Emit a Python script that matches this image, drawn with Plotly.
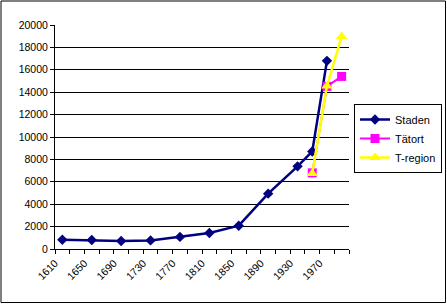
import plotly.graph_objects as go

# Data
staden_years = [1610, 1650, 1690, 1730, 1770, 1810, 1850, 1890, 1930, 1950, 1970]
staden_vals = [830, 800, 720, 770, 1080, 1430, 2080, 4940, 7380, 8710, 16800]
tatort_years = [1950, 1970, 1990]
tatort_vals = [6800, 14520, 15410]
tregion_years = [1950, 1970, 1990]
tregion_vals = [6750, 14550, 18980]

label_years = [1610, 1650, 1690, 1730, 1770, 1810, 1850, 1890, 1930, 1970]
category_bounds = list(range(1600, 2001, 20))
y_ticks = list(range(0, 20001, 2000))

FONT = "Liberation Sans, Arial, sans-serif"

fig = go.Figure()
fig.add_trace(go.Scatter(
    x=staden_years, y=staden_vals, name="Staden", mode="lines+markers",
    line=dict(color="#000080", width=2.5),
    marker=dict(symbol="diamond", size=8, color="#000080"),
))
fig.add_trace(go.Scatter(
    x=tatort_years, y=tatort_vals, name="Tätort", mode="lines+markers",
    line=dict(color="#FF00FF", width=2),
    marker=dict(symbol="square", size=9, color="#FF00FF"),
))
fig.add_trace(go.Scatter(
    x=tregion_years, y=tregion_vals, name="T-region", mode="lines+markers",
    line=dict(color="#FFFF00", width=2.5),
    marker=dict(symbol="triangle-up", size=10, color="#FFFF00"),
))

L, R, T, B = 55, 98, 25, 55
W, H = 447, 304
pw, ph = W - L - R, H - T - B

fig.update_layout(
    width=W, height=H,
    margin=dict(l=L, r=R, t=T, b=B, pad=0, autoexpand=False),
    paper_bgcolor="white", plot_bgcolor="white",
    font=dict(family=FONT, size=11, color="black"),
    showlegend=True,
    legend=dict(
        x=(354 - L) / pw, y=(H - B - 104) / ph, xanchor="left", yanchor="top",
        bordercolor="black", borderwidth=1, bgcolor="white",
        font=dict(family=FONT, size=11, color="black"),
        itemwidth=30, tracegroupgap=0,
    ),
    xaxis=dict(
        range=[1600, 2000],
        showgrid=False, zeroline=False,
        showline=True, linecolor="black", linewidth=1,
        tickmode="array",
        tickvals=[y - 10 for y in label_years],
        ticktext=[str(y) for y in label_years],
        ticks="", tickangle=-45, ticklabelstandoff=3,
        tickfont=dict(family=FONT, size=10.5, color="black"),
        minor=dict(tickmode="array", tickvals=category_bounds, ticks="outside",
                   ticklen=4, tickcolor="black", tickwidth=1, showgrid=False),
    ),
    yaxis=dict(
        range=[0, 20000],
        tickmode="array", tickvals=y_ticks, ticktext=[str(v) for v in y_ticks],
        showgrid=True, gridcolor="black", gridwidth=1,
        zeroline=False,
        showline=True, linecolor="black", linewidth=1,
        ticks="outside", ticklen=4, tickcolor="black",
        tickfont=dict(family=FONT, size=10.5, color="black"),
    ),
    shapes=[dict(
        type="rect", xref="paper", yref="paper",
        x0=(1 - L) / pw, x1=(445.5 - L) / pw,
        y0=(H - B - 302.5) / ph, y1=(H - B - 1) / ph,
        line=dict(color="black", width=1), fillcolor="rgba(0,0,0,0)", layer="above",
    )],
)

fig.write_html("out.html")
